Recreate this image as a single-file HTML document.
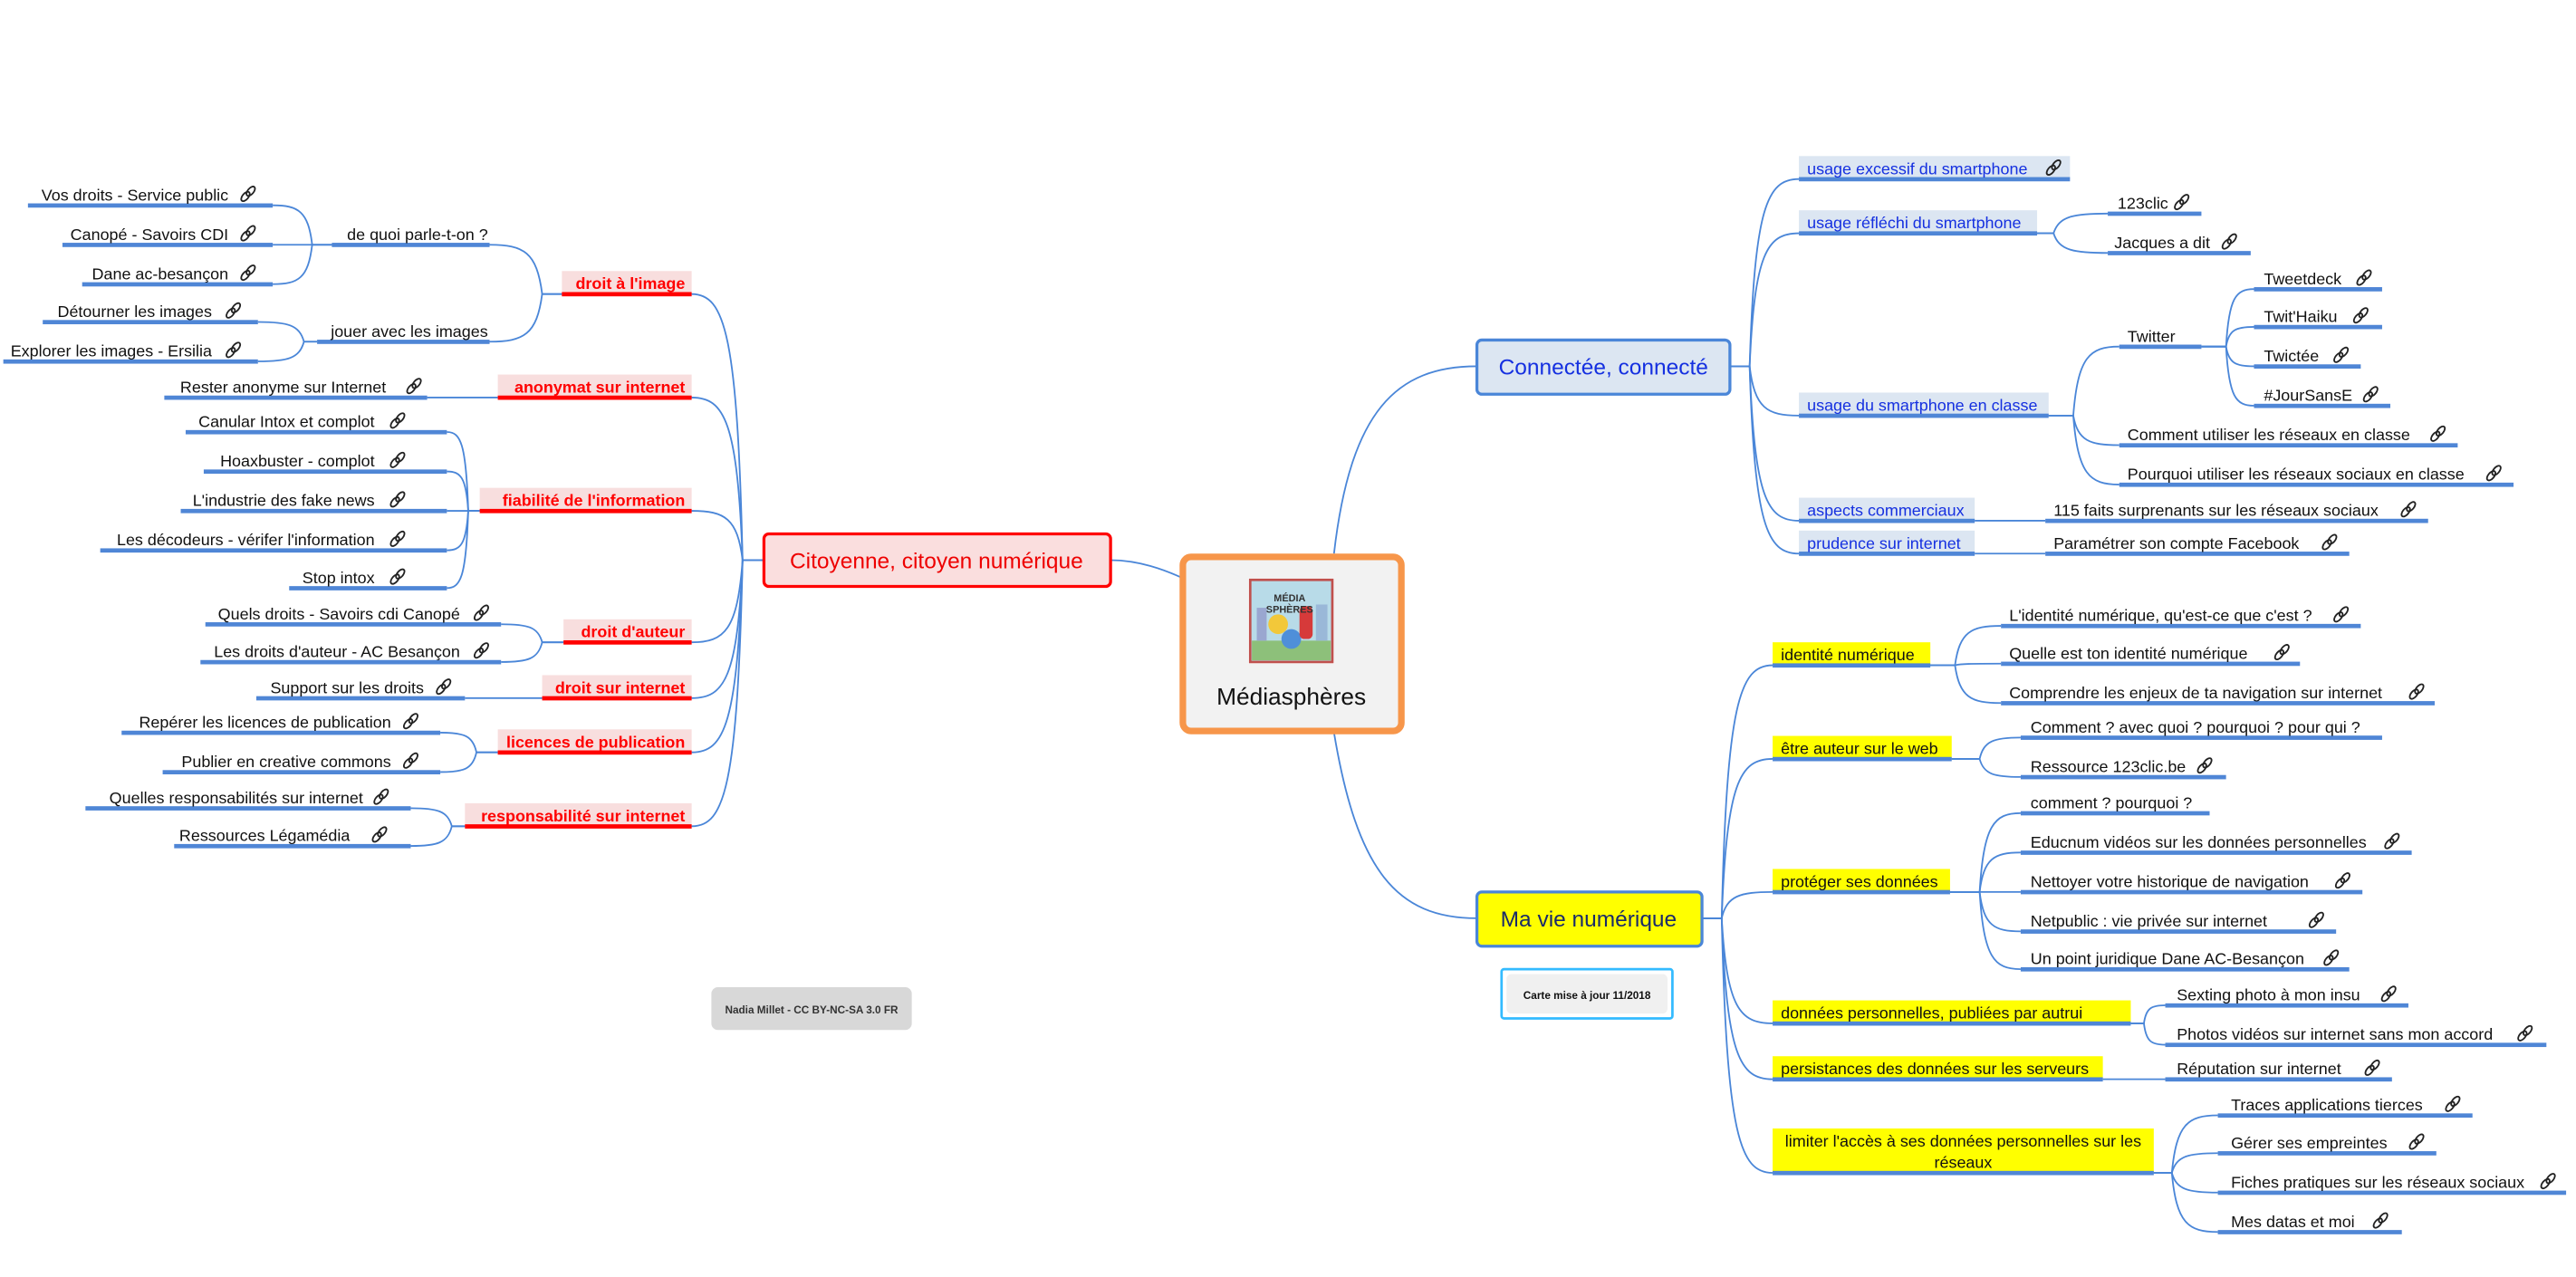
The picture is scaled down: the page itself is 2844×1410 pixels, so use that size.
<!DOCTYPE html>
<html><head><meta charset="utf-8"><style>
html,body{margin:0;padding:0;background:#fff;}
svg{display:block;}
text{font-family:"Liberation Sans",sans-serif;font-size:9.9px;fill:#111;}
.r{fill:#f00;font-weight:bold;}
.b{fill:#1530e0;}
</style></head><body>
<svg id="s" width="2844" height="1410" viewBox="0 0 1568 777.4" xmlns="http://www.w3.org/2000/svg">
<defs>
<g id="lk" fill="none" stroke="#222" stroke-width="1"><ellipse cx="-1.6" cy="1.6" rx="1.8" ry="3.4" transform="rotate(40 -1.6 1.6)"/><ellipse cx="1.6" cy="-1.6" rx="1.8" ry="3.4" transform="rotate(40 1.6 -1.6)"/></g>
</defs>
<g id="bg">
<rect x="342" y="165" width="79" height="14" fill="#f8dede"/>
<rect x="303" y="228" width="118" height="14" fill="#f8dede"/>
<rect x="292" y="297" width="129" height="14" fill="#f8dede"/>
<rect x="343" y="377" width="78" height="14" fill="#f8dede"/>
<rect x="330" y="411" width="91" height="14" fill="#f8dede"/>
<rect x="303" y="444" width="118" height="14" fill="#f8dede"/>
<rect x="283" y="489" width="138" height="14" fill="#f8dede"/>
<rect x="1095" y="95" width="165" height="14" fill="#dce6f2"/>
<rect x="1095" y="128" width="145" height="14" fill="#dce6f2"/>
<rect x="1095" y="239" width="152" height="14" fill="#dce6f2"/>
<rect x="1095" y="303" width="107" height="14" fill="#dce6f2"/>
<rect x="1095" y="323" width="107" height="14" fill="#dce6f2"/>
<rect x="1079" y="391" width="96" height="14" fill="#ffff00"/>
<rect x="1079" y="448" width="109" height="14" fill="#ffff00"/>
<rect x="1079" y="529" width="108" height="14" fill="#ffff00"/>
<rect x="1079" y="609" width="218" height="14" fill="#ffff00"/>
<rect x="1079" y="643" width="201" height="14" fill="#ffff00"/>
<rect x="1079" y="687" width="232" height="27" fill="#ffff00"/>
</g>
<g id="lines" fill="none" stroke="#4a86d8" stroke-width="1"></g>
<g id="ul"></g>

<rect x="720" y="339" width="133" height="106" rx="5" fill="#f2f2f2" stroke="#f7964a" stroke-width="4"/>
<rect x="760" y="352" width="52" height="52" fill="#fff"/>
<rect x="761" y="353" width="50" height="50" fill="#b8dbe8" stroke="#c0504d" stroke-width="1.5"/>
<rect x="762" y="390" width="48" height="12" fill="#8dc07a"/>
<rect x="765" y="370" width="6" height="20" fill="#9aa7d0"/><rect x="801" y="368" width="7" height="22" fill="#9ab8d8"/>
<circle cx="778" cy="380" r="6" fill="#f2c83a"/><circle cx="786" cy="389" r="6" fill="#4f8fd9"/><rect x="791" y="369" width="8" height="20" rx="3" fill="#d63a3a"/>
<text x="785" y="366" text-anchor="middle" style="font-size:6px;font-weight:bold;fill:#333">MÉDIA</text>
<text x="785" y="373" text-anchor="middle" style="font-size:6px;font-weight:bold;fill:#333">SPHÈRES</text>
<text x="786" y="429" text-anchor="middle" style="font-size:14.5px">Médiasphères</text>

<rect x="465" y="325" width="211" height="32" rx="3" fill="#fadede" stroke="#f00" stroke-width="1.8"/>
<text x="570" y="346" text-anchor="middle" style="font-size:13.5px;fill:#e00">Citoyenne, citoyen numérique</text>
<rect x="899" y="207" width="154" height="33" rx="3" fill="#dce6f2" stroke="#4a86d8" stroke-width="1.8"/>
<text x="976" y="228" text-anchor="middle" style="font-size:13.5px;fill:#1530e0">Connectée, connecté</text>
<rect x="899" y="543" width="137" height="33" rx="3" fill="#ffff00" stroke="#4a86d8" stroke-width="1.8"/>
<text x="967" y="564" text-anchor="middle" style="font-size:13.5px;fill:#1a2a6a">Ma vie numérique</text>
<rect x="914" y="590" width="104" height="30" rx="1.5" fill="#fff" stroke="#33bbff" stroke-width="1.5"/>
<rect x="917" y="593" width="98" height="24" rx="3" fill="#f0f0f0"/>
<text x="966" y="608" text-anchor="middle" style="font-size:6.5px;font-weight:bold">Carte mise à jour 11/2018</text>
<rect x="433" y="601" width="122" height="26" rx="4" fill="#d8d8d8"/>
<text x="494" y="617" text-anchor="middle" style="font-size:6.5px;font-weight:bold;fill:#333">Nadia Millet - CC BY-NC-SA 3.0 FR</text>

<text class="r" x="417" y="176" text-anchor="end">droit à l'image</text>
<text class="r" x="417" y="239" text-anchor="end">anonymat sur internet</text>
<text class="r" x="417" y="308" text-anchor="end">fiabilité de l'information</text>
<text class="r" x="417" y="388" text-anchor="end">droit d'auteur</text>
<text class="r" x="417" y="422" text-anchor="end">droit sur internet</text>
<text class="r" x="417" y="455" text-anchor="end">licences de publication</text>
<text class="r" x="417" y="500" text-anchor="end">responsabilité sur internet</text>

<text x="297" y="146" text-anchor="end">de quoi parle-t-on ?</text>
<text x="297" y="205" text-anchor="end">jouer avec les images</text>
<text x="139" y="122" text-anchor="end">Vos droits - Service public</text><use href="#lk" x="151" y="118"/>
<text x="139" y="146" text-anchor="end">Canopé - Savoirs CDI</text><use href="#lk" x="151" y="142"/>
<text x="139" y="170" text-anchor="end">Dane ac-besançon</text><use href="#lk" x="151" y="166"/>
<text x="129" y="193" text-anchor="end">Détourner les images</text><use href="#lk" x="142" y="189"/>
<text x="129" y="217" text-anchor="end">Explorer les images - Ersilia</text><use href="#lk" x="142" y="213"/>
<text x="235" y="239" text-anchor="end">Rester anonyme sur Internet</text><use href="#lk" x="252" y="235"/>
<text x="228" y="260" text-anchor="end">Canular Intox et complot</text><use href="#lk" x="242" y="256"/>
<text x="228" y="284" text-anchor="end">Hoaxbuster - complot</text><use href="#lk" x="242" y="280"/>
<text x="228" y="308" text-anchor="end">L'industrie des fake news</text><use href="#lk" x="242" y="304"/>
<text x="228" y="332" text-anchor="end">Les décodeurs - vérifer l'information</text><use href="#lk" x="242" y="328"/>
<text x="228" y="355" text-anchor="end">Stop intox</text><use href="#lk" x="242" y="351"/>
<text x="280" y="377" text-anchor="end">Quels droits - Savoirs cdi Canopé</text><use href="#lk" x="293" y="373"/>
<text x="280" y="400" text-anchor="end">Les droits d'auteur - AC Besançon</text><use href="#lk" x="293" y="396"/>
<text x="258" y="422" text-anchor="end">Support sur les droits</text><use href="#lk" x="270" y="418"/>
<text x="238" y="443" text-anchor="end">Repérer les licences de publication</text><use href="#lk" x="250" y="439"/>
<text x="238" y="467" text-anchor="end">Publier en creative commons</text><use href="#lk" x="250" y="463"/>
<text x="221" y="489" text-anchor="end">Quelles responsabilités sur internet</text><use href="#lk" x="232" y="485"/>
<text x="213" y="512" text-anchor="end">Ressources Légamédia</text><use href="#lk" x="231" y="508"/>

<text class="b" x="1100" y="106">usage excessif du smartphone</text><use href="#lk" x="1250" y="102"/>
<text class="b" x="1100" y="139">usage réfléchi du smartphone</text>
<text class="b" x="1100" y="250">usage du smartphone en classe</text>
<text class="b" x="1100" y="314">aspects commerciaux</text>
<text class="b" x="1100" y="334">prudence sur internet</text>
<text x="1289" y="127">123clic</text><use href="#lk" x="1328" y="123"/>
<text x="1287" y="151">Jacques a dit</text><use href="#lk" x="1357" y="147"/>
<text x="1295" y="208">Twitter</text>
<text x="1378" y="173">Tweetdeck</text><use href="#lk" x="1439" y="169"/>
<text x="1378" y="196">Twit'Haiku</text><use href="#lk" x="1437" y="192"/>
<text x="1378" y="220">Twictée</text><use href="#lk" x="1425" y="216"/>
<text x="1378" y="244">#JourSansE</text><use href="#lk" x="1443" y="240"/>
<text x="1295" y="268">Comment utiliser les réseaux en classe</text><use href="#lk" x="1484" y="264"/>
<text x="1295" y="292">Pourquoi utiliser les réseaux sociaux en classe</text><use href="#lk" x="1518" y="288"/>
<text x="1250" y="314">115 faits surprenants sur les réseaux sociaux</text><use href="#lk" x="1466" y="310"/>
<text x="1250" y="334">Paramétrer son compte Facebook</text><use href="#lk" x="1418" y="330"/>

<text x="1084" y="402">identité numérique</text>
<text x="1084" y="459">être auteur sur le web</text>
<text x="1084" y="540">protéger ses données</text>
<text x="1084" y="620">données personnelles, publiées par autrui</text>
<text x="1084" y="654">persistances des données sur les serveurs</text>
<text x="1195" y="698" text-anchor="middle">limiter l'accès à ses données personnelles sur les</text>
<text x="1195" y="711" text-anchor="middle">réseaux</text>
<text x="1223" y="378">L'identité numérique, qu'est-ce que c'est ?</text><use href="#lk" x="1425" y="374"/>
<text x="1223" y="401">Quelle est ton identité numérique</text><use href="#lk" x="1389" y="397"/>
<text x="1223" y="425">Comprendre les enjeux de ta navigation sur internet</text><use href="#lk" x="1471" y="421"/>
<text x="1236" y="446">Comment ? avec quoi ? pourquoi ? pour qui ?</text>
<text x="1236" y="470">Ressource 123clic.be</text><use href="#lk" x="1342" y="466"/>
<text x="1236" y="492">comment ? pourquoi ?</text>
<text x="1236" y="516">Educnum vidéos sur les données personnelles</text><use href="#lk" x="1456" y="512"/>
<text x="1236" y="540">Nettoyer votre historique de navigation</text><use href="#lk" x="1426" y="536"/>
<text x="1236" y="564">Netpublic : vie privée sur internet</text><use href="#lk" x="1410" y="560"/>
<text x="1236" y="587">Un point juridique Dane AC-Besançon</text><use href="#lk" x="1419" y="583"/>
<text x="1325" y="609">Sexting photo à mon insu</text><use href="#lk" x="1454" y="605"/>
<text x="1325" y="633">Photos vidéos sur internet sans mon accord</text><use href="#lk" x="1537" y="629"/>
<text x="1325" y="654">Réputation sur internet</text><use href="#lk" x="1444" y="650"/>
<text x="1358" y="676">Traces applications tierces</text><use href="#lk" x="1493" y="672"/>
<text x="1358" y="699">Gérer ses empreintes</text><use href="#lk" x="1471" y="695"/>
<text x="1358" y="723">Fiches pratiques sur les réseaux sociaux</text><use href="#lk" x="1551" y="719"/>
<text x="1358" y="747">Mes datas et moi</text><use href="#lk" x="1449" y="743"/>
</svg>
<script>
var NS="http://www.w3.org/2000/svg";
var L=document.getElementById("lines"),U=document.getElementById("ul");
function p(d){var e=document.createElementNS(NS,"path");e.setAttribute("d",d);L.appendChild(e);}
function e(px,py,jx,kids){kids.forEach(function(c){var cx=c[0],cy=c[1],d=cx-jx;
 p("M"+px+","+py+" L"+jx+","+py+" C"+(jx+d*0.1)+","+(py+(cy-py)*0.85)+" "+(jx+d*0.35)+","+cy+" "+cx+","+cy);});}
function u(x1,x2,y,c){var r=document.createElementNS(NS,"rect");r.setAttribute("x",x1);r.setAttribute("y",y-1.2);r.setAttribute("width",x2-x1);r.setAttribute("height",2.6);r.setAttribute("fill",c||"#4f86d6");U.appendChild(r);}
p("M720,352 C705,345 690,341 676,341");
p("M812,337 C822,250 850,223 899,223");
p("M812,446 C826,530 850,559 899,559");
e(465,341,452,[[421,179],[421,242],[421,311],[421,391],[421,425],[421,458],[421,503]]);
e(342,179,330,[[298,149],[298,208]]);
e(202,149,190,[[166,125],[166,149],[166,173]]);
e(193,208,185,[[157,196],[157,220]]);
e(303,242,290,[[260,242]]);
e(292,311,285,[[272,263],[272,287],[272,311],[272,335],[272,358]]);
e(343,391,330,[[305,380],[305,403]]);
e(330,425,310,[[283,425]]);
e(303,458,290,[[268,446],[268,470]]);
e(283,503,275,[[250,492],[250,515]]);
e(1053,223,1065,[[1095,109],[1095,142],[1095,253],[1095,317],[1095,337]]);
e(1240,142,1250,[[1283,130],[1283,154]]);
e(1247,253,1262,[[1290,211],[1290,271],[1290,295]]);
e(1340,211,1355,[[1372,176],[1372,199],[1372,223],[1372,247]]);
e(1202,317,1220,[[1245,317]]);e(1202,337,1220,[[1245,337]]);
e(1036,559,1048,[[1079,405],[1079,462],[1079,543],[1079,623],[1079,657],[1079,714]]);
e(1175,405,1190,[[1218,381],[1218,404],[1218,428]]);
e(1188,462,1205,[[1230,449],[1230,473]]);
e(1187,543,1205,[[1230,495],[1230,519],[1230,543],[1230,567],[1230,590]]);
e(1297,623,1305,[[1318,612],[1318,636]]);
e(1280,657,1300,[[1318,657]]);
e(1311,714,1322,[[1350,679],[1350,702],[1350,726],[1350,750]]);
var R="#ff0000";
[[342,179],[303,242],[292,311],[343,391],[330,425],[303,458],[283,503]].forEach(function(a){u(a[0],421,a[1],R);});
[[202,298,149],[193,298,208],[17,166,125],[38,166,149],[50,166,173],[26,157,196],[2,157,220],[100,260,242],
[113,272,263],[124,272,287],[110,272,311],[61,272,335],[176,272,358],[125,305,380],[122,305,403],[156,283,425],
[74,268,446],[99,268,470],[52,250,492],[106,250,515],
[1095,1260,109],[1095,1240,142],[1095,1247,253],[1095,1202,317],[1095,1202,337],
[1283,1340,130],[1283,1370,154],[1290,1340,211],[1372,1450,176],[1372,1450,199],[1372,1437,223],[1372,1455,247],
[1290,1496,271],[1290,1530,295],[1245,1478,317],[1245,1430,337],
[1079,1175,405],[1079,1188,462],[1079,1187,543],[1079,1297,623],[1079,1280,657],[1079,1311,714],
[1218,1437,381],[1218,1400,404],[1218,1482,428],[1230,1450,449],[1230,1355,473],[1230,1345,495],[1230,1468,519],
[1230,1438,543],[1230,1422,567],[1230,1430,590],[1318,1466,612],[1318,1550,636],[1318,1456,657],
[1350,1505,679],[1350,1483,702],[1350,1562,726],[1350,1462,750]].forEach(function(a){u(a[0],a[1],a[2]);});
</script>
</body></html>
